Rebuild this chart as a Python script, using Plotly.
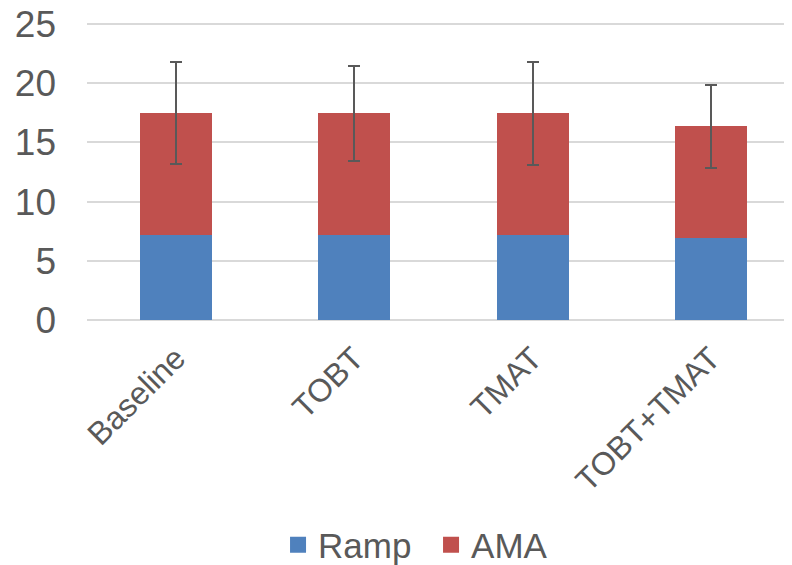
import plotly.graph_objects as go

categories = ["Baseline", "TOBT", "TMAT", "TOBT+TMAT"]
ramp = [7.18, 7.18, 7.18, 6.93]
ama = [10.29, 10.29, 10.29, 9.44]
ama_err = [4.3, 4.0, 4.35, 3.5]
y_ticks = [0, 5, 10, 15, 20, 25]

FONT = "Liberation Sans, Arial, sans-serif"
GREY = "#595959"
BLUE = "#4F81BD"
RED = "#C0504D"

fig = go.Figure()
fig.add_trace(go.Bar(x=categories, y=ramp, name="Ramp", marker_color=BLUE,
                     marker_line_width=0, showlegend=False))
fig.add_trace(go.Bar(x=categories, y=ama, name="AMA", marker_color=RED,
                     marker_line_width=0, showlegend=False,
                     error_y=dict(type="data", array=ama_err, visible=True,
                                  color=GREY, thickness=2, width=6)))
# legend entries with larger square swatches
for name, col in [("Ramp", BLUE), ("AMA", RED)]:
    fig.add_trace(go.Scatter(x=[None], y=[None], mode="markers", name=name,
                             marker=dict(symbol="square", size=19, color=col)))

# the page body adds an 8px margin, so the figure is 8px smaller and shifted
fig.update_layout(
    width=784, height=557,
    barmode="stack", bargap=0.596,
    plot_bgcolor="white", paper_bgcolor="white",
    margin=dict(l=79, r=0, t=14, b=244.5, autoexpand=False),
    font=dict(family=FONT, color=GREY),
    xaxis=dict(range=[-0.5, 3.456], tickangle=-45, showgrid=False, showline=False,
               zeroline=False, tickfont=dict(size=32, color=GREY),
               ticks="", ticklabelstandoff=12, automargin=False),
    yaxis=dict(range=[0, 25.17], tickvals=y_ticks, showgrid=True, gridcolor="#D9D9D9",
               gridwidth=1.5, zeroline=True, zerolinecolor="#D9D9D9", zerolinewidth=1.5,
               showline=False, tickfont=dict(size=37, color=GREY),
               ticks="", ticklabelstandoff=30, automargin=False,
               ticklabeloverflow="allow"),
    legend=dict(orientation="h", x=0.488, xanchor="center", y=-0.755, yanchor="middle",
                font=dict(size=35, color=GREY), itemwidth=30, traceorder="normal",
                entrywidth=108),
    showlegend=True,
)

fig.write_html("out.html")
